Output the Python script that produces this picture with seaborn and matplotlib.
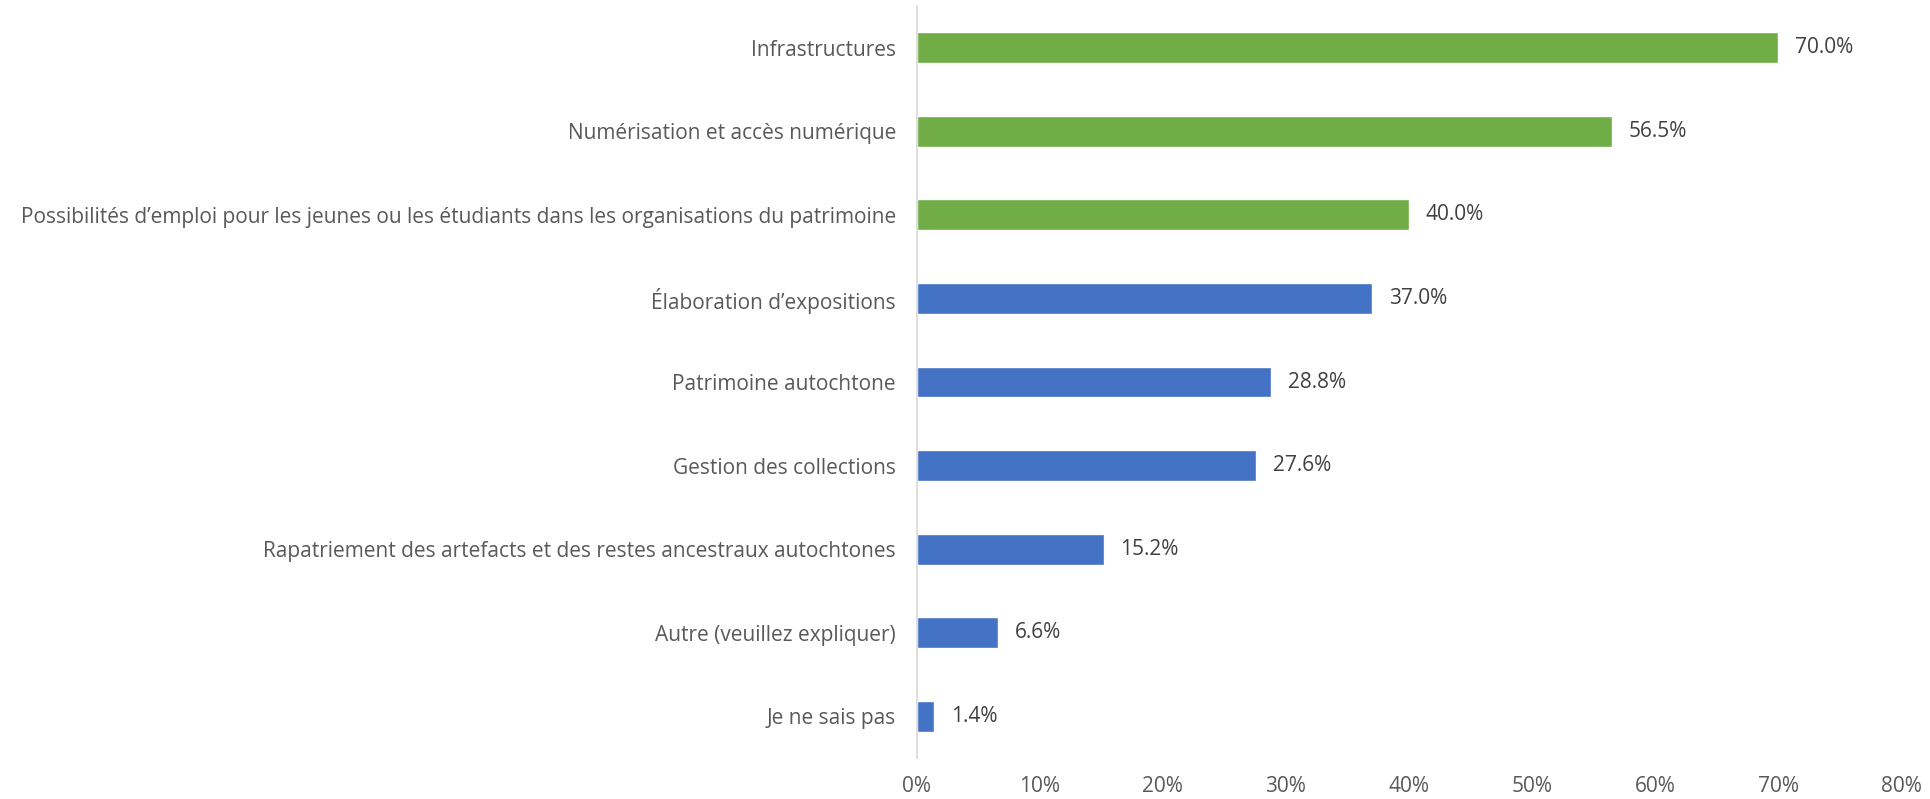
import pandas as pd
import seaborn as sns
import matplotlib.pyplot as plt
from matplotlib.ticker import PercentFormatter

categories = [
    "Infrastructures",
    "Numérisation et accès numérique",
    "Possibilités d’emploi pour les jeunes ou les étudiants dans les organisations du patrimoine",
    "Élaboration d’expositions",
    "Patrimoine autochtone",
    "Gestion des collections",
    "Rapatriement des artefacts et des restes ancestraux autochtones",
    "Autre (veuillez expliquer)",
    "Je ne sais pas",
]
values = [70.0, 56.5, 40.0, 37.0, 28.8, 27.6, 15.2, 6.6, 1.4]
groups = ["top", "top", "top", "other", "other", "other", "other", "other", "other"]

GREEN = "#70AD47"
BLUE = "#4472C4"

df = pd.DataFrame({"category": categories, "value": values, "group": groups})

sns.set_style("white")
plt.rcParams["font.family"] = ["Open Sans", "DejaVu Sans"]

fig = plt.figure(figsize=(19.3, 7.99), dpi=100)
ax = fig.add_axes([0.475, 0.0513, 0.51, 0.9412])

sns.barplot(data=df, y="category", x="value", hue="group",
            palette={"top": GREEN, "other": BLUE}, width=0.37,
            dodge=False, legend=False, ax=ax, saturation=1)

for cont in ax.containers:
    ax.bar_label(cont, labels=[f"{v.get_width():.1f}%" for v in cont],
                 padding=12, fontsize=15, color="#404040")

ax.set_xlim(0, 80)
ax.set_ylim(8.5, -0.5)
ax.xaxis.set_major_formatter(PercentFormatter(decimals=0))
ax.set_xticks(range(0, 81, 10))
ax.set_xlabel("")
ax.set_ylabel("")
ax.tick_params(axis="both", length=0, labelsize=15, colors="#595959")
ax.tick_params(axis="y", pad=15)
ax.tick_params(axis="x", pad=13)
for s in ["top", "right", "bottom"]:
    ax.spines[s].set_visible(False)
ax.spines["left"].set_color("#D9D9D9")
ax.spines["left"].set_linewidth(1.2)

fig.savefig("out.png", dpi=100)
